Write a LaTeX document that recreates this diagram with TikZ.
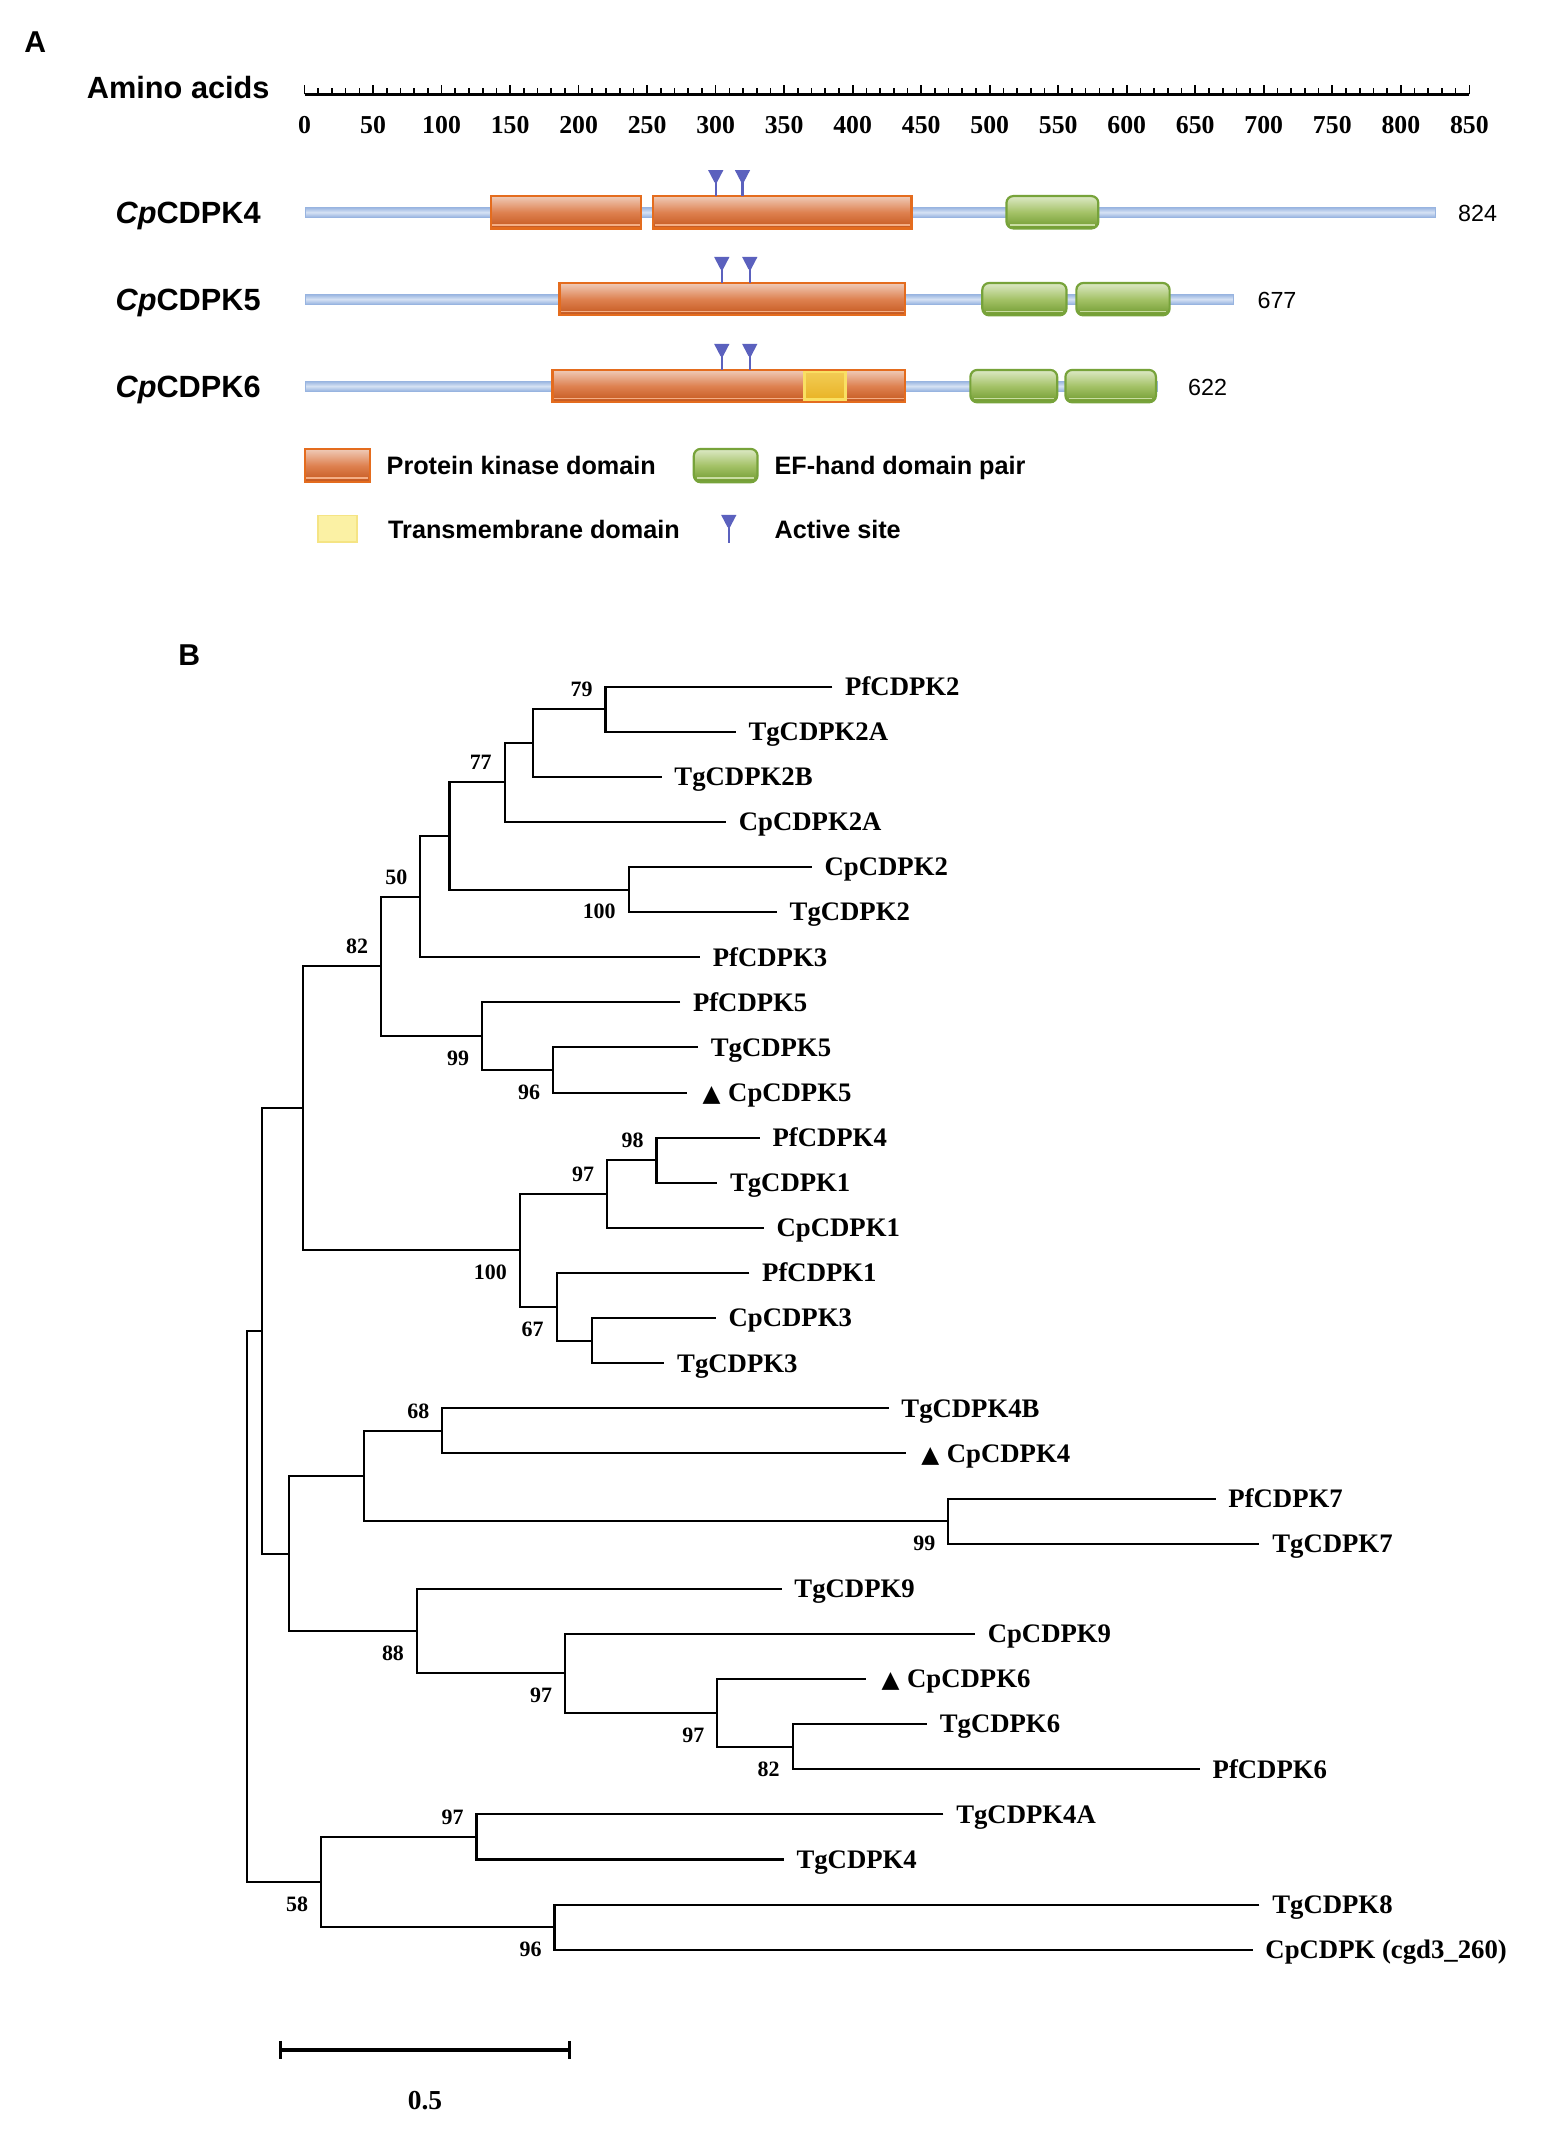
\documentclass[tikz,border=0pt]{standalone}
\usepackage{fontspec}
\setmainfont{Liberation Serif}
\newfontfamily\arialf{Liberation Sans}
\newfontfamily\trifont{DejaVu Sans}
\usetikzlibrary{calc}

\definecolor{kbord}{HTML}{E46C1E}
\definecolor{ktop}{HTML}{EFCBB8}
\definecolor{kmid}{HTML}{DE8150}
\definecolor{kbot}{HTML}{C4561C}
\definecolor{kstrip}{HTML}{F4AE85}
\definecolor{ebord}{HTML}{77A33A}
\definecolor{etop}{HTML}{DDE9C6}
\definecolor{emid}{HTML}{A4C267}
\definecolor{ebot}{HTML}{6F9A2F}
\definecolor{estrip}{HTML}{C9DDA2}
\definecolor{bbord}{HTML}{98B4E0}
\definecolor{bmid}{HTML}{D6E2F4}
\definecolor{actc}{HTML}{5B61BE}
\definecolor{tmfill}{HTML}{E9B326}
\definecolor{tmtop}{HTML}{F2CC55}
\definecolor{tmbord}{HTML}{F9E063}
\definecolor{tmleg}{HTML}{FBF1A4}
\definecolor{tmlegb}{HTML}{F5E484}

\newcommand\kbox[3]{%
  \draw[kbord, line width=0.8pt, top color=ktop, bottom color=kbot, middle color=kmid]
    (#1,{#3-11.8}) rectangle (#2,{#3+11.8});
  \draw[kstrip, line width=0.7pt] ({#1+1},{#3+9}) -- ({#2-1},{#3+9});}
\newcommand\ebox[3]{%
  \draw[ebord, line width=0.8pt, rounded corners=2.5pt, top color=etop, bottom color=ebot, middle color=emid]
    (#1,{#3-11.8}) rectangle (#2,{#3+11.8});
  \draw[estrip, line width=0.7pt] ({#1+2.5},{#3+9}) -- ({#2-2.5},{#3+9});}
\newcommand\bbone[2]{%
  \draw[bbord, line width=0.3pt, top color=bbord, bottom color=bbord, middle color=bmid]
    (223,{#2-3.6}) rectangle (#1,{#2+3.6});}
\newcommand\asite[3]{% x, top, bottom of stem
  \fill[actc] ({#1-5.6},#2) -- ({#1+5.6},#2) -- ({#1+0.9},{#2+9}) -- ({#1-0.9},{#2+9}) -- cycle;
  \draw[actc, line width=0.8pt] (#1,{#2+8}) -- (#1,#3);}

\newcommand\leaf[4]{\coordinate (#1) at (#2,#3); \node[leaflab] (#1t) at ([xshift=4.5pt]#1) {#4};}
\newcommand\tleaf[4]{\coordinate (#1) at (#2,#3); \node[leaflab] (#1t) at ([xshift=5.5pt]#1) {{\trifont\fontsize{8.5}{10}\selectfont ▲}\hspace{2.8pt}#4};}
\newcommand\inode[5]{\coordinate (#1) at (#2,#3); \draw[br] (#4) -| (#1) |- (#5);}
\newcommand\bsup[2]{\node[bsl] (#1-lab) at ([xshift=-4.5pt,yshift=7.25pt]#1) {#2};}
\newcommand\bsdn[2]{\node[bsl] (#1-lab) at ([xshift=-4.5pt,yshift=-8pt]#1) {#2};}

\tikzset{
  panellab/.style={font=\arialf\bfseries\fontsize{11}{13}\selectfont, inner sep=0pt},
  protlab/.style={font=\arialf\bfseries\fontsize{11.2}{13}\selectfont, inner sep=0pt, anchor=east, text height=8pt, text depth=0pt},
  rulnum/.style={font=\bfseries\fontsize{9.4}{11}\selectfont, inner sep=0pt, text height=6.35pt, text depth=0pt},
  lennum/.style={font=\arialf\fontsize{8.5}{10}\selectfont, inner sep=0pt, text height=6.1pt, text depth=0pt},
  leglab/.style={font=\arialf\bfseries\fontsize{9.2}{11}\selectfont, inner sep=0pt, anchor=west, text height=6.6pt, text depth=0pt},
  leaflab/.style={font=\bfseries\fontsize{9.75}{11}\selectfont, inner sep=0pt, anchor=west, text height=6.45pt, text depth=0pt},
  bsl/.style={font=\bfseries\fontsize{8}{9}\selectfont, inner sep=0pt, anchor=east, text height=5.4pt, text depth=0pt},
  br/.style={line width=0.75pt, black},
  tick/.style={line width=0.6pt, black},
}

\begin{document}
\begin{tikzpicture}[x=0.5pt,y=-0.5pt]
\useasboundingbox (0,0) rectangle (1139,1568);
\fill[white] (0,0) rectangle (1139,1568);

% ---------------- Panel A ----------------
\node[panellab] (pA) at (25.7,31) {A};
\node[protlab] (aa) at (197,64) {Amino acids};

\coordinate (r0) at (222.1,68.8);
\coordinate (r1) at (1071.6,68.8);
\draw[line width=0.85pt] (r0) -- (r1);
\foreach \i in {0,...,85} {\draw[tick] ({222.1+\i*9.994},68.8) -- ++(0,-4.5);}
\foreach \i in {0,...,17} {
  \draw[tick] ({222.1+\i*49.97},68.8) -- ++(0,-6.5);
  \node[rulnum] (t\i) at ({222.1+\i*49.97},91) {\the\numexpr\i*50\relax};
}

% CpCDPK4
\node[protlab] (p4) at (190.5,154.8) {{\itshape Cp}CDPK4};
\bbone{1046.7}{154.8}
\kbox{357.9}{467.6}{154.8}
\kbox{476.5}{664.7}{154.8}
\ebox{734}{801}{154.8}
\asite{522}{124}{143}
\asite{541.5}{124}{143}
\node[lennum] (len4) at (1077.6,155.5) {824};

% CpCDPK5
\node[protlab] (p5) at (190.5,218.2) {{\itshape Cp}CDPK5};
\bbone{899.2}{218.2}
\kbox{408}{660}{218.2}
\ebox{716.4}{777.8}{218.2}
\ebox{785}{853}{218.2}
\asite{526.4}{187.4}{206.4}
\asite{546.8}{187.4}{206.4}
\node[lennum] (len5) at (931.3,218.9) {677};

% CpCDPK6
\node[protlab] (p6) at (190.5,281.6) {{\itshape Cp}CDPK6};
\bbone{844}{281.6}
\kbox{403}{660}{281.6}
\draw[tmbord, line width=0.9pt, top color=tmtop, bottom color=tmfill] (586.6,271.4) rectangle (616.7,291.2);
\ebox{707.7}{771}{281.6}
\ebox{777}{843}{281.6}
\asite{526.4}{250.8}{269.8}
\asite{546.8}{250.8}{269.8}
\node[lennum] (len6) at (880.7,282.3) {622};

% legend
\draw[kbord, line width=0.8pt, top color=ktop, bottom color=kbot, middle color=kmid] (222.5,327.4) rectangle (269.7,351.7);
\draw[kstrip, line width=0.7pt] (223.5,348.6) -- (268.7,348.6);
\node[leglab] (lg1) at (281.6,339.5) {Protein kinase domain};
\draw[ebord, line width=0.8pt, rounded corners=2.5pt, top color=etop, bottom color=ebot, middle color=emid] (506,327.4) rectangle (552.5,351.7);
\draw[estrip, line width=0.7pt] (508.5,348.6) -- (550,348.6);
\node[leglab] (lg2) at (564.5,339.5) {EF-hand domain pair};
\draw[tmlegb, line width=0.6pt, fill=tmleg] (231.8,376) rectangle (260.4,395.2);
\node[leglab] (lg3) at (282.7,386) {Transmembrane domain};
\asite{531.5}{375.5}{395.7}
\node[leglab] (lg4) at (564.5,386) {Active site};

% ---------------- Panel B ----------------
\node[panellab] (pB) at (138,478) {B};

\leaf{L1}{607}{500.7}{PfCDPK2}
\leaf{L2}{536.5}{533.6}{TgCDPK2A}
\leaf{L3}{482.5}{566.5}{TgCDPK2B}
\leaf{L4}{529.5}{599.4}{CpCDPK2A}
\leaf{L5}{592}{632.3}{CpCDPK2}
\leaf{L6}{566.5}{665.2}{TgCDPK2}
\leaf{L7}{510.5}{698.1}{PfCDPK3}
\leaf{L8}{496}{731.0}{PfCDPK5}
\leaf{L9}{509}{763.9}{TgCDPK5}
\tleaf{L10}{501}{796.8}{CpCDPK5}
\leaf{L11}{554}{829.7}{PfCDPK4}
\leaf{L12}{523}{862.6}{TgCDPK1}
\leaf{L13}{557}{895.5}{CpCDPK1}
\leaf{L14}{546.5}{928.4}{PfCDPK1}
\leaf{L15}{522}{961.3}{CpCDPK3}
\leaf{L16}{484.5}{994.2}{TgCDPK3}
\leaf{L17}{648}{1027.1}{TgCDPK4B}
\tleaf{L18}{660.5}{1060.0}{CpCDPK4}
\leaf{L19}{886.5}{1092.9}{PfCDPK7}
\leaf{L20}{918.5}{1125.8}{TgCDPK7}
\leaf{L21}{570}{1158.7}{TgCDPK9}
\leaf{L22}{711}{1191.6}{CpCDPK9}
\tleaf{L23}{631.5}{1224.5}{CpCDPK6}
\leaf{L24}{676}{1257.4}{TgCDPK6}
\leaf{L25}{875}{1290.3}{PfCDPK6}
\leaf{L26}{688}{1323.2}{TgCDPK4A}
\leaf{L27}{571.5}{1356.1}{TgCDPK4}
\leaf{L28}{918.5}{1389.0}{TgCDPK8}
\leaf{L29}{913.5}{1421.9}{CpCDPK (cgd3\_260)}

\inode{n79}{441.6}{517.15}{L1}{L2}
\inode{na}{388.4}{541.83}{n79}{L3}
\inode{n77}{368}{570.6}{na}{L4}
\inode{n100}{458.4}{648.75}{L5}{L6}
\inode{nb}{327.8}{609.7}{n77}{n100}
\inode{n50}{306.5}{653.9}{nb}{L7}
\inode{n96}{403.3}{780.35}{L9}{L10}
\inode{n99}{351.5}{755.7}{L8}{n96}
\inode{n82}{277.9}{704.8}{n50}{n99}
\inode{n98}{478.8}{846.15}{L11}{L12}
\inode{n97a}{442.6}{870.8}{n98}{L13}
\inode{nc}{431.5}{977.75}{L15}{L16}
\inode{n67}{405.9}{953.1}{L14}{nc}
\inode{n100b}{379}{911.95}{n97a}{n67}
\inode{ntop}{221}{808.4}{n82}{n100b}
\inode{n68}{322.5}{1043.55}{L17}{L18}
\inode{n99b}{691.6}{1109.35}{L19}{L20}
\inode{nd}{265.6}{1076.45}{n68}{n99b}
\inode{n82b}{578}{1273.85}{L24}{L25}
\inode{n97c}{523}{1249.2}{L23}{n82b}
\inode{n97b}{412}{1220.4}{L22}{n97c}
\inode{n88}{304}{1189.55}{L21}{n97b}
\inode{ne}{210.6}{1133}{nd}{n88}
\inode{nf}{190.8}{970.7}{ntop}{ne}
\inode{n97d}{347.5}{1339.65}{L26}{L27}
\inode{n96b}{404.4}{1405.45}{L28}{L29}
\inode{n58}{234}{1372.55}{n97d}{n96b}
\inode{root}{180}{1171.6}{nf}{n58}

\bsup{n79}{79}
\bsup{n77}{77}
\bsdn{n100}{100}
\bsup{n50}{50}
\bsup{n82}{82}
\bsdn{n99}{99}
\bsdn{n96}{96}
\bsup{n98}{98}
\bsup{n97a}{97}
\bsdn{n100b}{100}
\bsdn{n67}{67}
\bsup{n68}{68}
\bsdn{n99b}{99}
\bsdn{n88}{88}
\bsdn{n97b}{97}
\bsdn{n97c}{97}
\bsdn{n82b}{82}
\bsup{n97d}{97}
\bsdn{n96b}{96}
\bsdn{n58}{58}

% scale bar
\coordinate (sb1) at (204.6,1495);
\coordinate (sb2) at (415.2,1495);
\draw[line width=1.25pt] (sb1) -- (sb2);
\draw[line width=1.25pt] ([yshift=3.3pt]sb1) -- ([yshift=-3.3pt]sb1);
\draw[line width=1.25pt] ([yshift=3.3pt]sb2) -- ([yshift=-3.3pt]sb2);
\node[font=\bfseries\fontsize{10}{12}\selectfont, inner sep=0pt, text height=6.8pt, text depth=0pt] (sbl) at (310,1531.7) {0.5};
\end{tikzpicture}
\end{document}
